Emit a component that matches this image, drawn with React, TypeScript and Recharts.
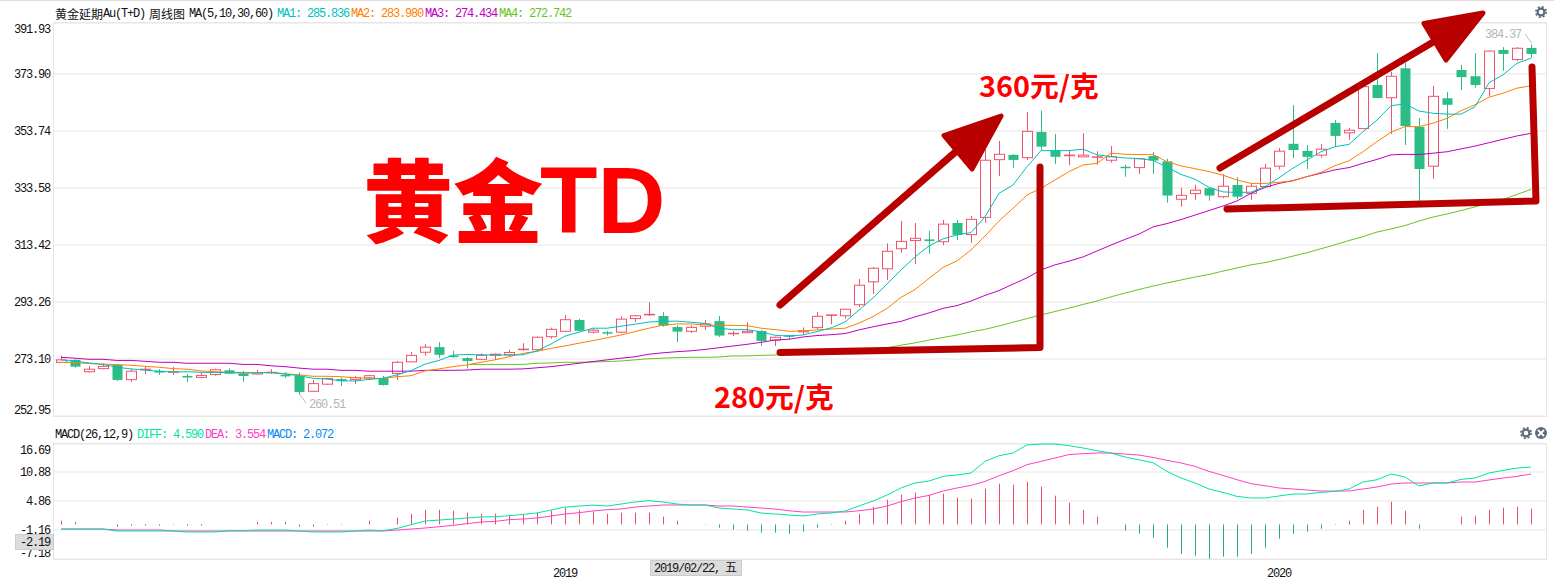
import { Bar, CartesianGrid, ComposedChart, Line, XAxis, YAxis } from "recharts";

// weekly candles
const OPEN = [271.9,272.8,268.6,269.7,271.0,265.8,269.3,268.9,268.4,267.1,266.6,267.6,269.1,268.0,267.8,268.3,267.5,267.2,261.7,264.2,266.0,265.8,266.4,266.3,268.0,272.1,275.5,277.3,274.3,273.4,273.0,274.4,274.6,276.5,276.4,281.0,282.9,286.9,282.6,282.6,282.6,287.4,288.8,288.3,284.4,282.9,284.7,286.5,282.1,282.4,283.0,279.8,281.5,282.7,284.2,288.6,288.4,292.3,300.4,305.0,312.1,315.0,315.4,314.6,321.2,317.1,323.2,343.6,345.3,344.3,353.4,346.8,345.0,344.6,344.5,343.4,341.1,340.8,344.9,343.0,329.6,331.6,333.5,330.5,334.65,331.7,334.1,341.3,349.2,346.7,345.2,356.6,353.1,354.6,370.0,365.5,375.9,355.2,341.3,365.3,375.3,373.1,368.8,382.4,379.0,383.1];
const CLOSE = [272.8,270.4,269.5,270.5,265.7,268.8,269.5,268.3,268.6,267.0,267.3,269.3,267.9,267.1,268.3,268.4,267.1,261.4,264.4,266.2,265.3,266.5,267.2,263.9,271.95,274.4,277.3,274.6,274.1,272.4,274.4,274.8,275.4,276.6,280.8,283.6,287.0,283.1,283.3,282.1,287.2,288.4,288.9,284.9,282.8,284.3,285.5,281.4,282.2,282.9,279.5,280.8,281.0,283.1,288.2,288.7,290.7,299.2,305.2,311.2,314.7,315.8,314.8,320.8,317.0,322.5,343.4,345.5,343.5,353.6,348.2,344.6,345.2,345.2,344.6,344.6,340.9,343.95,343.3,330.9,331.0,332.8,330.9,334.2,330.5,334.2,340.6,346.6,347.0,344.6,347.3,352.0,354.0,369.4,365.4,373.1,355.5,340.3,366.0,363.0,372.8,370.0,382.0,381.0,383.0,381.0];
const HIGH = [274.3,273.0,270.6,271.6,271.3,269.5,270.6,269.5,270.3,267.8,268.3,269.7,269.8,268.9,269.2,269.5,268.4,268.4,265.7,266.5,266.5,267.2,267.5,267.1,272.4,275.6,278.3,279.1,276.0,273.8,275.1,275.1,276.4,278.7,281.1,284.2,288.7,287.3,283.7,283.0,288.2,288.7,293.2,289.7,285.0,285.0,286.9,288.3,283.0,286.1,283.4,281.0,281.6,284.3,289.7,288.8,290.8,301.4,305.6,314.0,321.9,321.2,318.4,322.3,322.3,323.7,347.0,350.2,345.6,360.5,360.9,352.7,346.8,353.0,346.6,348.4,341.8,344.2,346.3,343.95,333.6,334.7,333.8,338.5,337.4,335.0,342.1,347.7,362.9,348.8,349.2,357.6,354.8,370.7,381.3,374.7,377.8,358.3,369.7,367.5,377.1,381.3,382.3,383.4,383.4,384.37];
const LOW = [271.9,270.0,268.3,269.5,265.3,265.0,267.8,267.5,267.5,265.0,266.3,267.2,267.8,265.0,267.6,267.8,266.5,260.51,261.5,263.9,263.6,264.3,265.7,263.7,265.7,272.0,274.3,273.5,273.6,269.7,272.9,272.8,274.0,276.0,276.0,280.3,282.6,282.9,282.1,281.4,282.2,286.2,288.3,284.5,279.1,282.3,283.4,280.9,281.2,282.4,277.7,277.7,280.1,281.6,283.6,285.4,287.3,291.4,296.1,301.05,310.7,306.7,310.3,313.4,315.2,314.2,321.3,337.8,340.7,343.5,346.8,342.1,341.7,344.6,341.8,342.5,337.6,338.5,338.5,328.4,327.0,329.35,329.1,330.05,329.6,329.35,333.7,340.1,344.2,340.3,344.3,348.1,350.6,354.5,365.4,352.7,348.8,329.0,336.8,354.5,368.25,369.0,365.9,375.0,378.5,379.6];

// moving averages
const MA1 = [272.8,272.3,271.7,271.2,270.2,269.6,269.2,268.8,268.5,268.6,268.4,268.3,268.4,268.3,268.2,268.3,267.8,267.2,266.3,266.0,265.4,265.3,265.9,266.3,267.5,269.0,271.3,272.6,274.5,274.7,274.6,274.5,274.5,274.6,276.0,278.4,281.2,282.6,284.0,284.0,284.7,285.4,286.2,286.4,286.5,286.1,285.7,284.0,283.5,283.5,282.7,281.5,281.2,281.6,282.8,284.1,286.2,290.4,294.7,299.6,304.6,309.2,313.1,315.6,317.0,317.8,323.4,331.7,334.65,341.1,346.8,346.8,346.8,347.3,345.3,344.7,344.2,343.95,343.4,340.9,338.4,336.7,333.8,332.2,332.0,332.1,334.05,337.2,340.6,343.5,346.4,348.2,349.0,353.5,357.6,362.7,363.3,360.8,360.0,359.7,359.7,362.3,370.8,373.6,377.7,379.5];
const MA2 = [271.9,271.8,271.5,271.3,271.1,270.9,270.5,270.2,269.7,269.5,268.9,268.6,268.4,268.0,268.3,268.4,267.9,267.5,267.0,267.0,266.85,266.5,266.3,266.2,266.85,267.2,268.9,269.6,270.4,271.0,271.95,272.8,273.9,275.1,275.8,276.9,277.7,278.7,279.6,280.6,281.6,282.8,284.0,285.1,285.5,285.5,285.2,285.0,285.0,284.9,284.0,283.5,282.9,283.0,283.4,283.7,284.0,285.8,288.1,291.0,294.9,297.7,301.6,305.5,307.8,311.7,316.6,321.9,326.4,331.1,333.5,336.4,339.4,341.7,342.3,345.9,345.5,345.4,345.4,342.9,341.4,340.4,339.4,338.1,336.4,335.2,335.2,335.6,336.1,337.6,339.1,341.5,343.2,346.4,350.0,353.3,355.3,355.3,356.5,358.2,360.9,363.0,365.7,367.1,368.9,369.7];
const MA3 = [273.7,273.4,273.0,273.0,272.6,272.6,272.3,271.95,271.95,271.6,271.6,271.6,271.6,271.2,271.2,270.7,270.4,269.9,269.5,269.5,269.1,269.1,268.8,268.8,268.8,268.8,269.1,269.1,269.1,269.2,269.5,269.5,269.5,269.6,270.0,270.4,271.0,271.6,272.2,272.8,273.4,273.9,274.8,275.3,275.7,276.0,276.5,277.1,277.7,278.3,279.0,279.8,280.1,280.9,281.4,281.7,282.1,283.4,284.5,285.5,286.4,288.0,289.4,291.0,292.0,293.6,295.6,297.3,299.6,301.8,304.6,306.4,307.7,309.2,311.3,313.4,315.4,317.3,319.8,321.0,322.4,324.0,325.6,327.2,329.0,331.7,333.8,335.2,336.2,337.6,338.8,340.0,340.8,342.3,343.7,345.3,345.5,345.4,345.9,346.4,347.4,348.4,349.6,350.8,352.0,352.9];
// the 60 week line only starts at week 29
const MA4_START = 29;
const MA4 = [271.2,271.2,271.2,271.2,271.2,271.6,271.7,271.95,271.95,272.05,272.2,272.4,272.8,273.2,273.4,273.6,273.7,273.7,273.8,274.2,274.2,274.4,274.5,274.9,275.2,275.5,275.8,276.1,276.4,276.7,277.1,278.0,278.8,279.8,280.7,281.6,282.7,283.6,284.8,286.1,287.4,288.7,289.9,291.1,292.4,293.6,295.1,296.4,297.7,298.9,300.0,301.05,302.1,303.0,304.2,305.3,306.4,307.2,308.3,309.5,310.7,312.1,313.5,315.0,316.4,318.0,319.1,320.3,321.9,323.3,324.4,325.6,326.9,328.3,329.5,331.3,333.1];

// MACD panel
const DIFF = [-0.96,-0.96,-0.96,-0.96,-1.37,-1.37,-1.37,-1.37,-1.37,-1.58,-1.58,-1.58,-1.3,-1.3,-1.16,-1.16,-1.16,-1.37,-1.58,-1.58,-1.58,-1.37,-1.16,-1.3,-0.83,-0.06,0.7,0.9,1.1,1.33,1.54,1.6,1.8,2.08,2.37,3.0,3.6,3.8,4.0,3.8,4.23,4.65,4.92,4.65,4.23,4.03,4.03,3.4,3.2,3.0,2.37,2.16,1.95,1.74,2.16,2.37,2.78,3.82,4.86,6.1,7.56,8.6,9.0,9.97,10.26,10.67,13.08,14.26,14.82,16.5,16.69,16.69,16.34,15.86,15.3,14.8,14.0,13.4,12.8,11.0,9.63,8.6,7.35,6.65,5.81,5.48,5.48,5.9,6.31,6.31,6.65,6.86,7.35,8.8,9.28,10.46,9.84,7.97,8.6,8.6,9.34,9.63,10.67,11.2,11.7,11.9];
const DEA = [-0.96,-0.96,-0.96,-0.96,-1.16,-1.16,-1.16,-1.16,-1.37,-1.37,-1.37,-1.37,-1.37,-1.37,-1.37,-1.37,-1.37,-1.37,-1.37,-1.37,-1.37,-1.37,-1.37,-1.37,-1.16,-0.96,-0.75,-0.48,-0.2,0.15,0.5,0.62,0.98,1.12,1.33,1.74,2.16,2.43,2.78,3.05,3.2,3.6,3.82,4.03,4.03,4.03,4.03,3.82,3.82,3.6,3.4,3.2,2.84,2.57,2.57,2.57,2.57,2.84,3.2,3.82,4.71,5.48,6.02,6.93,7.56,8.1,8.93,10.1,11.15,12.4,13.08,13.78,14.5,14.68,14.82,14.82,14.6,14.4,13.9,13.3,12.75,12.04,11.0,10.17,9.28,8.45,8.03,7.56,7.35,7.14,6.93,6.93,6.93,7.35,7.76,8.38,8.6,8.6,8.6,8.6,8.8,8.8,9.22,9.63,9.97,10.46];
const HIST = [0.77,0.5,0,0,-0.48,-0.27,-0.27,-0.27,-0.1,-0.27,-0.27,0,0,0,0.5,0.5,0.5,-0.48,-0.48,-0.1,-0.1,0,0.77,0,1.39,2.22,3.05,3.05,2.84,2.43,2.22,2.22,2.01,2.01,2.43,2.84,3.47,3.05,2.7,2.22,2.43,2.43,2.43,1.6,0.77,0,-0.1,-0.69,-1.1,-1.31,-1.72,-1.72,-1.93,-1.52,-0.69,-0.1,0.77,2.22,3.67,5.13,6.17,6.58,6.17,6.37,5.54,5.34,7.41,8.45,8.24,8.86,7.83,5.96,4.5,3.05,1.6,0,-1.31,-1.93,-2.76,-4.84,-6.08,-6.5,-7.12,-6.7,-6.7,-6.08,-4.84,-2.97,-1.93,-1.52,-0.89,-0.1,0.77,3.05,3.67,4.71,2.84,-0.89,0,0,1.6,1.8,3.05,3.47,3.67,3.26];

const PRICE_TICKS = [252.95, 273.1, 293.26, 313.42, 333.58, 353.74, 373.9, 391.93];
const MACD_TICKS = [-7.18, -1.16, 4.86, 10.88, 16.69];
const YEAR_TICKS: Record<number, string> = { 36: "2019", 87: "2020" };

const RED = "#f2536b";
const GREEN = "#2bbd85";
const GRID = "#e6e6e6";
const MONO = '"Liberation Mono", "Noto Sans CJK SC", monospace';
const CJK = '"Noto Sans CJK SC", sans-serif';

const candleData = OPEN.map((open, i) => ({
  i,
  open,
  close: CLOSE[i],
  range: [LOW[i], HIGH[i]],
  ma1: MA1[i],
  ma2: MA2[i],
  ma3: MA3[i],
  ma4: i >= MA4_START ? MA4[i - MA4_START] : null,
}));

const macdData = DIFF.map((diff, i) => ({ i, diff, dea: DEA[i], hist: HIST[i] }));

function Candle(props: any) {
  const { x, y, width, height, payload } = props;
  const [low, high] = payload.range;
  const perUnit = height / (high - low);
  const yOf = (v: number) => y + (high - v) * perUnit;
  const cx = Math.floor(x + width / 2);
  const up = payload.close >= payload.open;
  const top = yOf(Math.max(payload.open, payload.close));
  const bottom = yOf(Math.min(payload.open, payload.close));
  const color = up ? RED : GREEN;
  return (
    <g>
      <line x1={cx + 0.5} x2={cx + 0.5} y1={y} y2={y + height} stroke={color} strokeWidth={1} />
      {up ? (
        <rect x={cx - 4.5} y={top} width={10} height={Math.max(bottom - top, 0.5)} fill="#fff" stroke={color} strokeWidth={1} />
      ) : (
        <rect x={cx - 4.5} y={top} width={10} height={Math.max(bottom - top, 1.5)} fill={color} />
      )}
    </g>
  );
}

function HistBar(props: any) {
  const { x, y, width, height, value } = props;
  if (!height) return null;
  const v = Array.isArray(value) ? value[1] : value;
  return (
    <rect
      x={Math.floor(x + width / 2)}
      y={Math.min(y, y + height)}
      width={1}
      height={Math.abs(height)}
      fill={v >= 0 ? "#ef4d60" : "#2aaa80"}
    />
  );
}

function edgeTick(min: number, max: number) {
  return function Tick(props: any) {
    const { y, payload } = props;
    const v = payload.value;
    const dy = v === max ? 6 : v === min ? -6 : 0;
    return (
      <text x={50} y={y + dy} dy={4} textAnchor="end" fontFamily={MONO} fontSize={12} letterSpacing={-1.2} fill="#111">
        {v.toFixed(2)}
      </text>
    );
  };
}

function Gear({ x, y }: { x: number; y: number }) {
  return (
    <g>
      <circle cx={x} cy={y} r={3.4} fill="none" stroke="#5f6a7d" strokeWidth={2.2} />
      <circle cx={x} cy={y} r={5.2} fill="none" stroke="#5f6a7d" strokeWidth={1.6} strokeDasharray="2.1 2" />
    </g>
  );
}

function Label({ x, y, color, children, cjk }: any) {
  return (
    <span
      style={{
        position: "absolute",
        left: x,
        top: y,
        color,
        fontFamily: cjk ? CJK : MONO,
        fontSize: 12,
        letterSpacing: cjk ? 0 : -1.2,
        lineHeight: "14px",
        whiteSpace: "pre",
      }}
    >
      {children}
    </span>
  );
}

const ARROW_RED = "#b80000";

export default function App() {
  return (
    <div style={{ position: "fixed", left: 0, top: 0, width: 1554, height: 586, background: "#fff", overflow: "hidden" }}>
      <div style={{ position: "absolute", left: 0, top: 0, width: 1554, height: 1, background: "#ddd" }} />
      <div style={{ position: "absolute", left: 53, top: 22, width: 1492, height: 393, border: `1px solid ${GRID}` }} />
      <div style={{ position: "absolute", left: 53, top: 443, width: 1492, height: 115, border: `1px solid ${GRID}` }} />

      <Label x={55} y={7} color="#111" cjk>黄金延期</Label>
      <Label x={103} y={7} color="#111">Au(T+D)</Label>
      <Label x={149} y={7} color="#111" cjk>周线图</Label>
      <Label x={189} y={7} color="#111">MA(5,10,30,60)</Label>
      <Label x={277} y={7} color="#00bfbf">MA1: 285.836</Label>
      <Label x={351} y={7} color="#ff8000">MA2: 283.980</Label>
      <Label x={425} y={7} color="#bf00bf">MA3: 274.434</Label>
      <Label x={499} y={7} color="#66c61c">MA4: 272.742</Label>

      <Label x={55} y={428} color="#111">MACD(26,12,9)</Label>
      <Label x={137} y={428} color="#00e59e">DIFF: 4.590</Label>
      <Label x={205} y={428} color="#ff40c8">DEA: 3.554</Label>
      <Label x={267} y={428} color="#0a8cf0">MACD: 2.072</Label>

      <div style={{ position: "absolute", left: 0, top: 0 }}>
        <ComposedChart width={1554} height={440} data={candleData} margin={{ top: 23, right: 8, bottom: 24, left: 0 }}>
          <CartesianGrid vertical={false} stroke={GRID} />
          <XAxis dataKey="i" hide padding={{ left: 0, right: 8 }} />
          <YAxis
            domain={[252.95, 391.93]}
            ticks={PRICE_TICKS}
            interval={0}
            width={54}
            axisLine={false}
            tickLine={false}
            tick={edgeTick(252.95, 391.93)}
          />
          <Bar dataKey="range" barSize={9} shape={<Candle />} isAnimationActive={false} />
          <Line dataKey="ma4" stroke="#66c61c" strokeWidth={1} dot={false} isAnimationActive={false} />
          <Line dataKey="ma3" stroke="#bf00bf" strokeWidth={1} dot={false} isAnimationActive={false} />
          <Line dataKey="ma2" stroke="#ff8000" strokeWidth={1} dot={false} isAnimationActive={false} />
          <Line dataKey="ma1" stroke="#00bfbf" strokeWidth={1} dot={false} isAnimationActive={false} />
        </ComposedChart>
      </div>

      <div style={{ position: "absolute", left: 0, top: 420 }}>
        <ComposedChart width={1554} height={166} data={macdData} margin={{ top: 24, right: 8, bottom: 0, left: 0 }}>
          <CartesianGrid vertical={false} stroke={GRID} />
          <XAxis
            dataKey="i"
            height={27}
            padding={{ left: 0, right: 8 }}
            ticks={[36, 87]}
            interval={0}
            axisLine={false}
            tickLine={false}
            tickFormatter={(v) => YEAR_TICKS[v] ?? ""}
            tick={{ fontFamily: MONO, fontSize: 12, fill: "#111", letterSpacing: -1.2 }}
            tickMargin={3}
          />
          <YAxis
            domain={[-7.18, 16.69]}
            ticks={MACD_TICKS}
            interval={0}
            width={54}
            axisLine={false}
            tickLine={false}
            tick={edgeTick(-7.18, 16.69)}
          />
          <Bar dataKey="hist" barSize={1} shape={<HistBar />} isAnimationActive={false} />
          <Line dataKey="dea" stroke="#ff40c8" strokeWidth={1} dot={false} isAnimationActive={false} />
          <Line dataKey="diff" stroke="#00e59e" strokeWidth={1} dot={false} isAnimationActive={false} />
        </ComposedChart>
      </div>

      {/* hand drawn notes on top of the chart */}
      <svg width={1554} height={586} style={{ position: "absolute", left: 0, top: 0 }}>
        <g stroke={ARROW_RED} fill="none" strokeWidth={7} strokeLinecap="round" strokeLinejoin="round">
          <line x1={780} y1={305} x2={960} y2={148} />
          <polyline points="780,352.5 1040,347.5 1040,167" />
          <line x1={1220} y1={168} x2={1440} y2={38} />
          <polyline points="1227,209 1536,201 1532,67" />
        </g>
        <g fill={ARROW_RED} stroke={ARROW_RED} strokeWidth={5} strokeLinejoin="round">
          <polygon points="1001,116 944,135.5 972,169" />
          <polygon points="1483,13 1424,23.5 1446,60" />
        </g>
        <text x={363} y={235} fontFamily={CJK} fontWeight={900} fontSize={90} fill="#ff0000">黄金</text>
        <text x={540} y={233} fontFamily='"Liberation Sans", sans-serif' fontWeight={700} fontSize={94} fill="#ff0000">TD</text>
        <text x={979} y={97} fontFamily={CJK} fontWeight={700} fontSize={28.8} fill="#ff0000">360元/克</text>
        <text x={714} y={408} fontFamily={CJK} fontWeight={700} fontSize={28.8} fill="#ff0000">280元/克</text>

        <polyline points="299.5,394 306,403" fill="none" stroke="#bbb" />
        <text x={309} y={408} fontFamily={MONO} fontSize={12} letterSpacing={-1.2} fill="#b5b5b5">260.51</text>
        <polyline points="1531.5,43 1525,34" fill="none" stroke="#bbb" />
        <text x={1485} y={38} fontFamily={MONO} fontSize={12} letterSpacing={-1.2} fill="#b5b5b5">384.37</text>

        <Gear x={1541} y={12} />
        <Gear x={1526} y={433} />
        <circle cx={1541} cy={433} r={6} fill="#5f6a7d" />
        <path d="M1538 430 L1544 436 M1544 430 L1538 436" stroke="#fff" strokeWidth={1.8} />

        <rect x={15.5} y={534.5} width={38} height={15} fill="#dcdcdc" stroke="#ccc" />
        <text x={50} y={546} textAnchor="end" fontFamily={MONO} fontSize={12} letterSpacing={-1.2} fill="#111">-2.19</text>
        <rect x={650.5} y={560.5} width={91} height={15} fill="#dcdcdc" stroke="#ccc" />
        <text x={654} y={572} fontFamily={MONO} fontSize={12} letterSpacing={-1.2} fill="#111">2019/02/22,</text>
        <text x={725} y={572} fontFamily={CJK} fontSize={12} fill="#111">五</text>
      </svg>
    </div>
  );
}
